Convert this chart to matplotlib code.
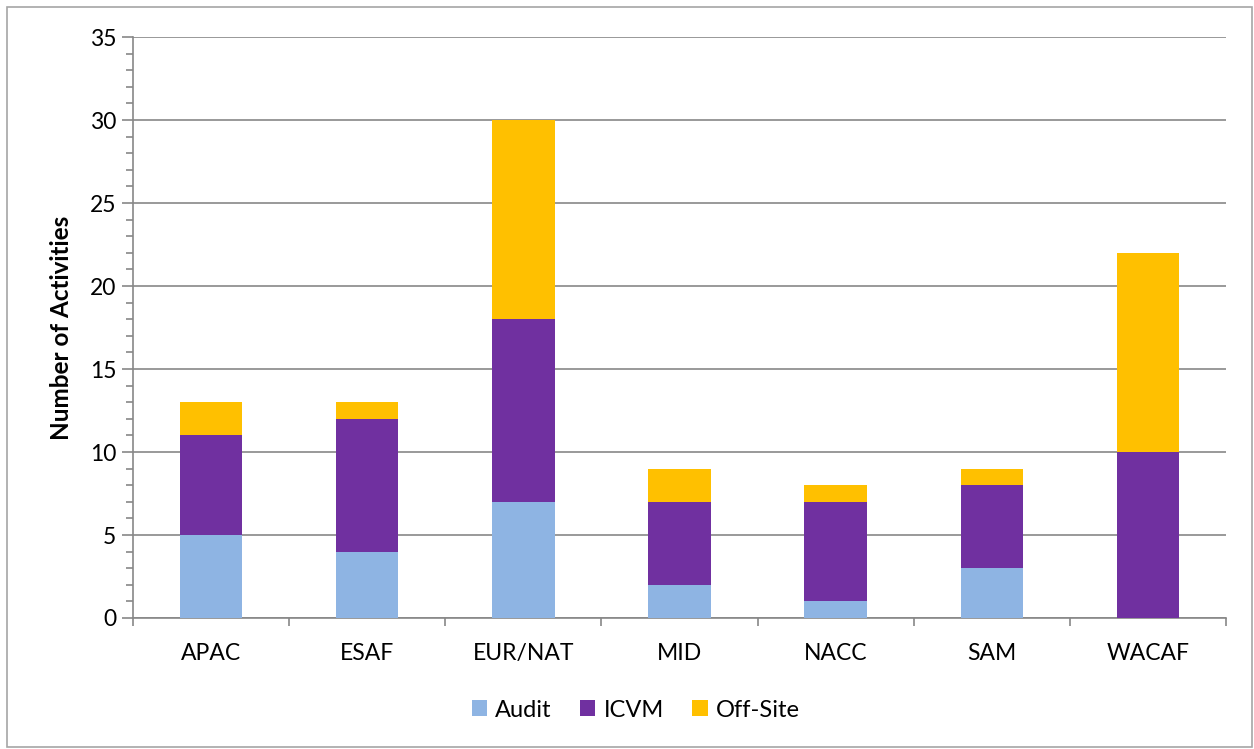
import matplotlib.pyplot as plt
from matplotlib.patches import Rectangle
from matplotlib.ticker import MultipleLocator
import numpy as np

plt.rcParams['font.family'] = ['Lato', 'DejaVu Sans']

regions = ['APAC', 'ESAF', 'EUR/NAT', 'MID', 'NACC', 'SAM', 'WACAF']
audit = [5, 4, 7, 2, 1, 3, 0]
icvm = [6, 8, 11, 5, 6, 5, 10]
offsite = [2, 1, 12, 2, 1, 1, 12]

fig = plt.figure(figsize=(12.54, 7.49), dpi=100)
ax = fig.add_axes([0.1061, 0.1749, 0.8716, 0.7757])

# outer chart border like the Excel chart frame
fig.patches.append(Rectangle((7 / 1254, 2 / 749), 1245 / 1254, 740 / 749,
                             transform=fig.transFigure, fill=False,
                             edgecolor='#A6A6A6', linewidth=1.2))

x = np.arange(len(regions))
w = 0.40
audit = np.array(audit)
icvm = np.array(icvm)
offsite = np.array(offsite)
ax.bar(x, audit, w, color='#8EB4E3', label='Audit', zorder=3)
ax.bar(x, icvm, w, bottom=audit, color='#7030A0', label='ICVM', zorder=3)
ax.bar(x, offsite, w, bottom=audit + icvm, color='#FFC000', label='Off-Site', zorder=3)

ax.set_xlim(-0.5, len(regions) - 0.5)
ax.set_ylim(0, 35)
ax.yaxis.set_major_locator(MultipleLocator(5))
ax.yaxis.set_minor_locator(MultipleLocator(1))
ax.grid(axis='y', color='#878787', linewidth=1.2, zorder=0)

ax.set_xticks(x)
ax.set_xticklabels(regions, fontsize=16.5)
ax.tick_params(axis='x', length=0, pad=18)
ax.set_xticks(np.arange(len(regions) + 1) - 0.5, minor=True)
ax.tick_params(axis='x', which='minor', length=6, color='#878787', width=1.2)
ax.tick_params(axis='y', which='major', length=8, color='#878787', width=1.2, labelsize=16.5, pad=4)
ax.tick_params(axis='y', which='minor', length=5, color='#878787', width=1.2)

for s in ['top', 'right']:
    ax.spines[s].set_visible(False)
for s in ['left', 'bottom']:
    ax.spines[s].set_color('#878787')
    ax.spines[s].set_linewidth(1.2)

ax.set_ylabel('Number of Activities', fontsize=17.5, fontweight='bold', labelpad=12)

fig.legend(*ax.get_legend_handles_labels(), loc='center',
           bbox_to_anchor=(0.507, 0.052), ncol=3, frameon=False,
           fontsize=17, handlelength=0.65, handleheight=0.65, handletextpad=0.35,
           columnspacing=1.2)

fig.savefig('out.png', dpi=100)
